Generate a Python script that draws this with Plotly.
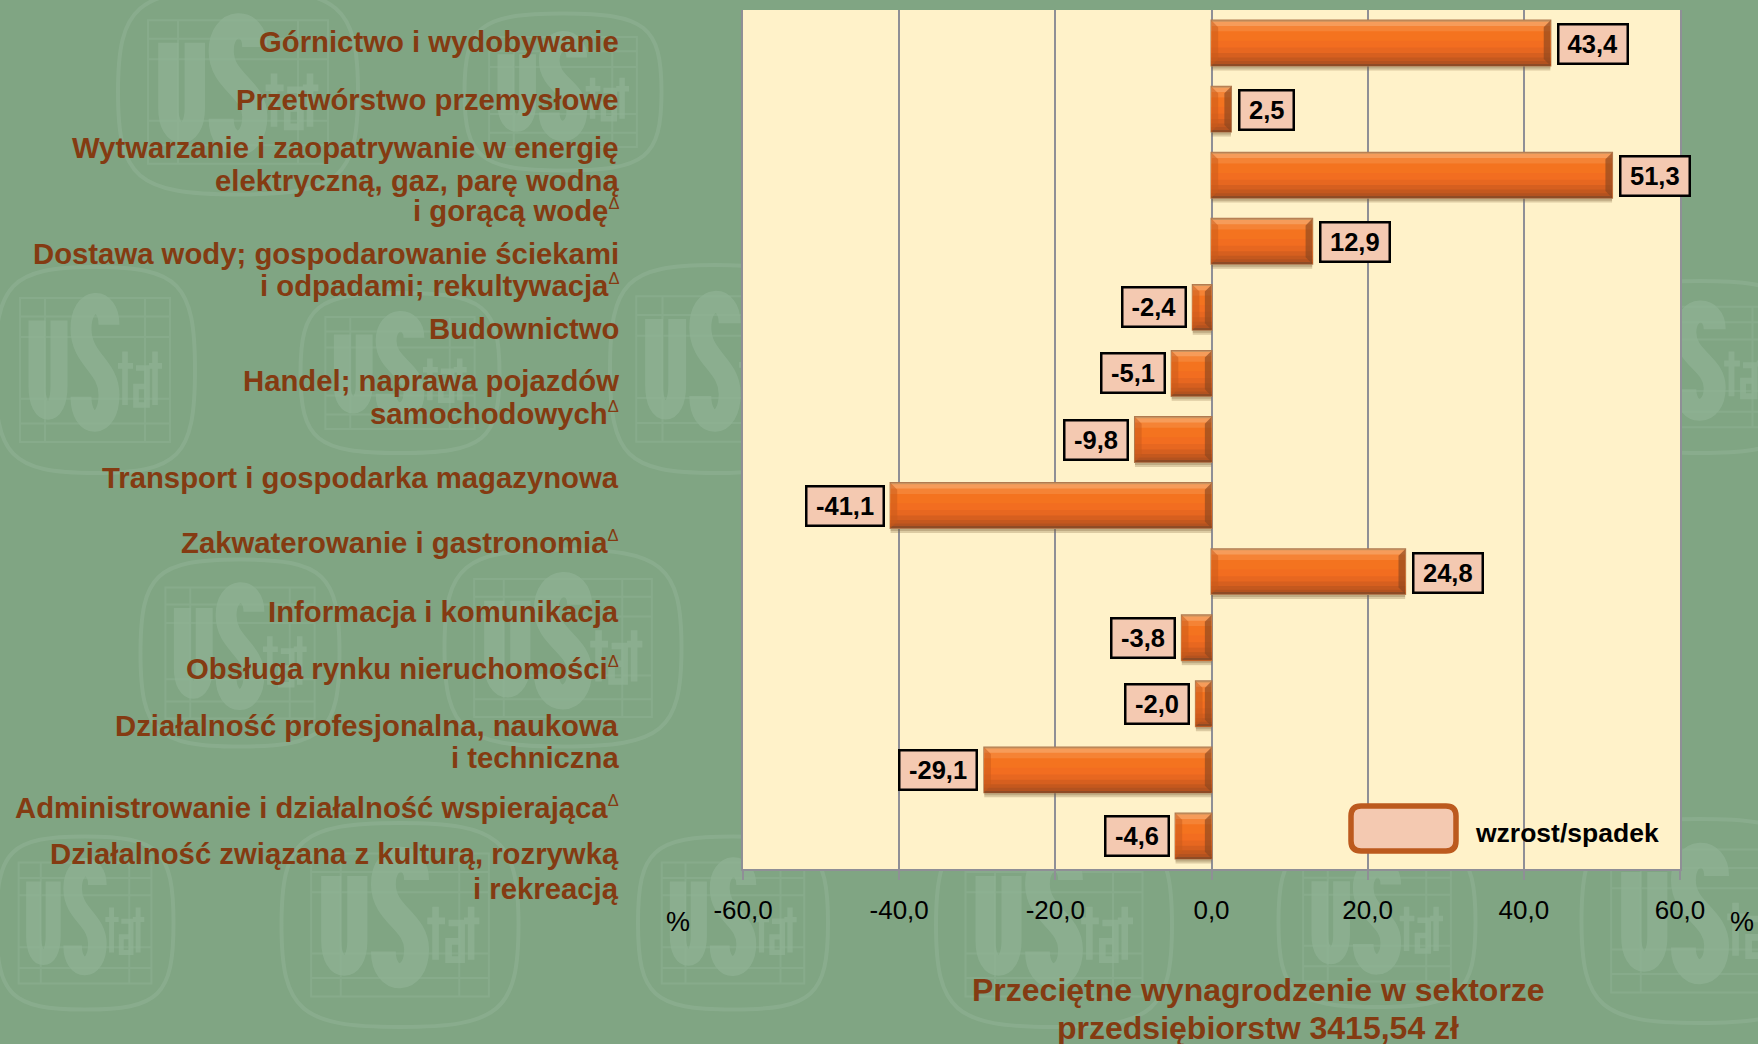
import plotly.graph_objects as go

# ---------- data ----------
CATEGORIES = [
    "Górnictwo i wydobywanie",
    "Przetwórstwo przemysłowe",
    "Wytwarzanie i zaopatrywanie w energię<br>elektryczną, gaz, parę wodną<br>i gorącą wodę^",
    "Dostawa wody; gospodarowanie ściekami<br>i odpadami; rekultywacja^",
    "Budownictwo",
    "Handel; naprawa pojazdów<br>samochodowych^",
    "Transport i gospodarka magazynowa",
    "Zakwaterowanie i gastronomia^",
    "Informacja i komunikacja",
    "Obsługa rynku nieruchomości^",
    "Działalność profesjonalna, naukowa<br>i techniczna",
    "Administrowanie i działalność wspierająca^",
    "Działalność związana z kulturą, rozrywką<br>i rekreacją",
]
VALUES = [43.4, 2.5, 51.3, 12.9, -2.4, -5.1, -9.8, -41.1, 24.8, -3.8, -2.0, -29.1, -4.6]
TICK_VALUES = [-60, -40, -20, 0, 20, 40, 60]
TICK_LABELS = ["-60,0", "-40,0", "-20,0", "0,0", "20,0", "40,0", "60,0"]
TITLE_LINES = ["Przeciętne wynagrodzenie w sektorze", "przedsiębiorstw 3415,54 zł"]
LEGEND_LABEL = "wzrost/spadek"

# ---------- layout constants ----------
W, H = 1758, 1044
L, R, T, B = 743, 1680, 10, 869
FONT = "Liberation Sans"
BROWN = "#843B12"
BG = "#80A583"
CREAM = "#FFF2C9"
WM = "#8FB294"
BOX = "#F4C9B1"
GRID = "#8F8F96"
LINE_Y = [[41], [99], [148, 180, 210], [254, 286], [328], [380, 413], [477], [542],
          [611], [668], [725, 757], [807], [853, 888]]
LOGOS = [(238, 92, 240, 205), (563, 92, 197, 157), (95, 370, 200, 206), (400, 373, 199, 160),
         (715, 369, 210, 208), (240, 653, 199, 187), (563, 648, 237, 197), (85, 923, 177, 173),
         (400, 925, 237, 204), (733, 923, 190, 173), (1054, 925, 236, 204), (1377, 922, 197, 170),
         (1700, 921, 237, 204), (1700, 367, 210, 172)]


def px(x):
    return (x - L) / (R - L)


def py(y):
    return (B - y) / (B - T)


def path_shape(d, **kw):
    return dict(type="path", xref="paper", yref="paper", layer="below", path=d, **kw)


def logo_shapes(cx, cy, w, h):
    def p(a, b):
        return f"{px(cx + a * w):.5f},{py(cy + b * h):.5f}"

    out = []
    # outline
    k2 = .42
    d = (f"M{p(-.5, 0)} C{p(-.5, -k2)} {p(-k2, -.5)} {p(0, -.5)} C{p(k2, -.5)} {p(.5, -k2)} {p(.5, 0)} "
         f"C{p(.5, k2)} {p(k2, .5)} {p(0, .5)} C{p(-k2, .5)} {p(-.5, k2)} {p(-.5, 0)} Z")
    out.append(path_shape(d, line=dict(color=WM, width=4), opacity=.6))
    # grid
    gx0, gx1, gy0, gy1 = -.375, .375, -.35, .35
    g = f"M{p(gx0, gy0)} L{p(gx1, gy0)} L{p(gx1, gy1)} L{p(gx0, gy1)} Z "
    for yy in (-.26, -.16, .14, .26):
        g += f"M{p(gx0, yy)} L{p(gx1, yy)} "
    for xx in (-.25, .25):
        g += f"M{p(xx, gy0)} L{p(xx, gy1)} "
    out.append(path_shape(g, line=dict(color=WM, width=2), opacity=.5))
    # u
    u = f"M{p(-.29, -.24)} L{p(-.29, .08)} C{p(-.29, .24)} {p(-.18, .24)} {p(-.18, .08)} L{p(-.18, -.24)}"
    out.append(path_shape(u, line=dict(color=WM, width=max(w * .085, 6)), opacity=.75))
    # S
    s = (f"M{p(.07, -.22)} C{p(.07, -.36)} {p(-.07, -.36)} {p(-.07, -.20)} C{p(-.07, -.05)} {p(.07, -.02)} {p(.07, .12)} "
         f"C{p(.07, .29)} {p(-.07, .29)} {p(-.07, .13)}")
    out.append(path_shape(s, line=dict(color=WM, width=max(w * .105, 8)), opacity=.75))
    # tat
    t = (f"M{p(.15, -.09)} L{p(.15, .17)} M{p(.115, -.02)} L{p(.19, -.02)} "
         f"M{p(.205, -.01)} L{p(.26, -.01)} L{p(.26, .17)} L{p(.205, .17)} L{p(.205, .08)} L{p(.26, .08)} "
         f"M{p(.30, -.09)} L{p(.30, .17)} M{p(.27, -.02)} L{p(.335, -.02)}")
    out.append(path_shape(t, line=dict(color=WM, width=max(w * .028, 3)), opacity=.75))
    return out


shapes = []
for lg in LOGOS:
    shapes += logo_shapes(*lg)
# plot panel (hides the watermark)
shapes.append(dict(type="rect", xref="paper", yref="paper", layer="below", x0=0, x1=1, y0=0, y1=1,
                   fillcolor=CREAM, line_width=0))

fig = go.Figure()
ys = list(range(len(VALUES)))
HALF = 0.34

# soft shadow
for off, wd, col in [(HALF, .075, "rgba(130,105,60,.28)"), (HALF, .045, "rgba(120,90,50,.28)")]:
    fig.add_trace(go.Bar(x=VALUES, y=ys, orientation="h", offset=off, width=wd,
                         marker=dict(color=col, line_width=0), hoverinfo="skip"))

# soft outer rim
fig.add_trace(go.Bar(x=VALUES, y=ys, orientation="h", offset=-HALF, width=2 * HALF,
                     marker=dict(color="#B5673A", line=dict(color="#B07A50", width=2)), hoverinfo="skip"))

# vertical gradient of each bar
BANDS = [(0.00, "#C9935F"), (0.025, "#F69C5A"), (0.12, "#F58335"), (0.24, "#F4731F"), (0.45, "#F26D20"),
         (0.60, "#E76720"), (0.72, "#D65F1F"), (0.82, "#C4581E"), (0.90, "#B3521F"), (0.97, "#8E4B25")]
for frac, col in BANDS:
    top = -HALF + frac * 2 * HALF
    fig.add_trace(go.Bar(x=VALUES, y=ys, orientation="h", offset=top, width=HALF - top,
                         marker=dict(color=col, line_width=0), hoverinfo="skip"))

# mitred ends of the bevel
DX, DY = 0.85, 0.10


def end_polys(side):
    xs, yy = [], []
    for i, v in enumerate(VALUES):
        lo, hi = min(0, v), max(0, v)
        d = min(DX, (hi - lo) / 2)
        dy = DY * d / DX
        if side == "left":
            xs += [lo, lo + d, lo + d, lo, None]
        else:
            xs += [hi, hi - d, hi - d, hi, None]
        yy += [i - HALF, i - HALF + dy, i + HALF - dy, i + HALF, None]
    return xs, yy


for side, col in (("left", "rgba(200,90,25,.50)"), ("right", "rgba(140,70,30,.65)")):
    xs, yy = end_polys(side)
    fig.add_trace(go.Scatter(x=xs, y=yy, mode="lines", fill="toself", fillcolor=col,
                             line=dict(width=0), hoverinfo="skip"))

ann = []
DELTA = "<sup><span style='font-size:16.5px;font-weight:normal;'>Δ</span></sup>"
# category labels, one annotation per text line
for cat, positions in zip(CATEGORIES, LINE_Y):
    for line, y in zip(cat.split("<br>"), positions):
        txt = f"<b>{line[:-1]}</b>{DELTA}" if line.endswith("^") else f"<b>{line}</b>"
        ann.append(dict(xref="paper", yref="paper", x=px(621), y=py(y), xanchor="right", yanchor="middle",
                        text=txt, showarrow=False, font=dict(family=FONT, size=29.3, color=BROWN)))

# value labels
GW = {"-": .333, ",": .278}
for i, v in enumerate(VALUES):
    s = f"{v:.1f}".replace(".", ",")
    bw = sum(GW.get(c, .556) for c in s) * 25.5 + 17
    ann.append(dict(x=v, y=i, xref="x", yref="y", text=f"<b>{s}</b>", showarrow=False,
                    xanchor="left" if v > 0 else "right", xshift=7 if v > 0 else -6, yshift=-1 if v > 0 else 0,
                    width=bw, height=37, align="center", valign="middle",
                    bgcolor=BOX, bordercolor="#000000", borderwidth=2.5, borderpad=0,
                    font=dict(family=FONT, size=25.5, color="#000000")))

# legend swatch + label
x0, x1, y0, y1 = 1351, 1456, 806, 851
r = 10
d = (f"M{px(x0 + r)},{py(y0)} L{px(x1 - r)},{py(y0)} Q{px(x1)},{py(y0)} {px(x1)},{py(y0 + r)} "
     f"L{px(x1)},{py(y1 - r)} Q{px(x1)},{py(y1)} {px(x1 - r)},{py(y1)} L{px(x0 + r)},{py(y1)} "
     f"Q{px(x0)},{py(y1)} {px(x0)},{py(y1 - r)} L{px(x0)},{py(y0 + r)} Q{px(x0)},{py(y0)} {px(x0 + r)},{py(y0)} Z")
shapes.append(dict(type="path", xref="paper", yref="paper", layer="above", path=d, fillcolor=BOX,
                   line=dict(color="#BC5A1E", width=5.5)))
ann.append(dict(xref="paper", yref="paper", x=px(1473), y=py(833), xanchor="left", yanchor="middle",
                text=f"<b>{LEGEND_LABEL}</b>", showarrow=False, font=dict(family=FONT, size=26.5, color="#000000")))

# percent signs
for xp in (678, 1742):
    ann.append(dict(xref="paper", yref="paper", x=px(xp), y=py(922), xanchor="center", yanchor="middle",
                    text="%", showarrow=False, font=dict(family=FONT, size=27, color="#000000")))

# title
for line, y in zip(TITLE_LINES, (990, 1028)):
    ann.append(dict(xref="paper", yref="paper", x=px(1258), y=py(y), xanchor="center", yanchor="middle",
                    text=f"<b>{line}</b>", showarrow=False, font=dict(family=FONT, size=32, color=BROWN)))

fig.update_layout(
    width=W, height=H, autosize=False,
    margin=dict(l=L, r=W - R, t=T, b=H - B, pad=0),
    paper_bgcolor=BG, plot_bgcolor="rgba(0,0,0,0)",
    barmode="overlay", showlegend=False, shapes=shapes, annotations=ann, hovermode=False,
    xaxis=dict(range=[-60, 60], tickvals=TICK_VALUES, ticktext=TICK_LABELS, ticks="outside", ticklen=9,
               tickwidth=2, tickcolor=GRID, showgrid=True, gridcolor=GRID, gridwidth=2, zeroline=False,
               showline=True, linecolor=GRID, linewidth=2, ticklabelstandoff=8,
               tickfont=dict(family=FONT, size=26, color="#000000"), fixedrange=True),
    yaxis=dict(range=[len(VALUES) - .5, -.5], tickvals=[], showgrid=False, zeroline=False,
               showline=True, linecolor=GRID, linewidth=1.5, mirror=True, fixedrange=True),
)

fig.write_html("out.html", post_script="document.body.style.margin='0';",
               config={"displayModeBar": False})
